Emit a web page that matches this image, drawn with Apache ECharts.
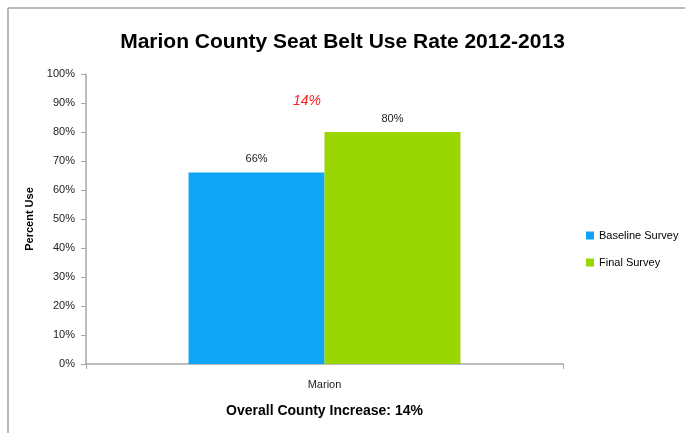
<!DOCTYPE html>
<html>
<head>
<meta charset="utf-8">
<script src="https://cdn.jsdelivr.net/npm/echarts@6/dist/echarts.min.js"></script>
<style>
  html, body { margin: 0; padding: 0; background: #fff; }
  #chart { width: 685px; height: 433px; }
</style>
</head>
<body>
<div id="chart"></div>
<script>
// data
const categories = ['Marion']
const baseline = [66]
const finalSurvey = [80]
const increaseText = '14%'
const yTicks = [0, 100, 10] // min, max, step

const font = '"Liberation Sans", Arial, sans-serif'
const chart = echarts.init(document.getElementById('chart'))

chart.setOption({
  animation: false,
  title: {
    text: 'Marion County Seat Belt Use Rate 2012-2013',
    left: 'center',
    top: 27,
    textStyle: { fontFamily: font, fontSize: 21, fontWeight: 'bold', color: '#000' }
  },
  legend: {
    orient: 'vertical',
    left: 581,
    top: 225,
    itemWidth: 8,
    itemHeight: 8,
    itemGap: 16,
    icon: 'rect',
    textStyle: { fontFamily: font, fontSize: 11, color: '#000' },
    data: ['Baseline Survey', 'Final Survey']
  },
  grid: { left: 86, right: 122, top: 74, bottom: 69 },
  xAxis: {
    type: 'category',
    data: categories,
    axisLine: { lineStyle: { color: '#a6a6a6', width: 1.5 } },
    axisTick: { show: true, length: 5, lineStyle: { color: '#a6a6a6' } },
    axisLabel: { fontFamily: font, fontSize: 11, color: '#222', margin: 15 },
    name: 'Overall County Increase: 14%',
    nameLocation: 'middle',
    nameGap: 40,
    nameTextStyle: { fontFamily: font, fontSize: 14, fontWeight: 'bold', color: '#000' }
  },
  yAxis: {
    type: 'value',
    min: yTicks[0],
    max: yTicks[1],
    interval: yTicks[2],
    splitLine: { show: false },
    axisLine: { show: true, lineStyle: { color: '#a6a6a6', width: 1.5 } },
    axisTick: { show: true, length: 5, lineStyle: { color: '#a6a6a6' } },
    axisLabel: { fontFamily: font, fontSize: 11, color: '#222', margin: 11, formatter: '{value}%' },
    name: 'Percent Use',
    nameLocation: 'middle',
    nameGap: 47,
    nameTextStyle: { fontFamily: font, fontSize: 11, fontWeight: 'bold', color: '#000' }
  },
  series: [
    {
      name: 'Baseline Survey',
      type: 'bar',
      data: baseline,
      barGap: '0%',
      barCategoryGap: '43%',
      itemStyle: { color: '#0ea5f6' },
      label: { show: true, position: 'top', distance: 8, formatter: '{c}%', fontFamily: font, fontSize: 11, color: '#222' }
    },
    {
      name: 'Final Survey',
      type: 'bar',
      data: finalSurvey,
      itemStyle: { color: '#99d602' },
      label: { show: true, position: 'top', distance: 8, formatter: '{c}%', fontFamily: font, fontSize: 11, color: '#222' }
    }
  ],
  graphic: [
    { type: 'line', shape: { x1: 8, y1: 8, x2: 685, y2: 8 }, style: { stroke: '#a0a0a0', lineWidth: 1.5 } },
    { type: 'line', shape: { x1: 8, y1: 8, x2: 8, y2: 433 }, style: { stroke: '#a0a0a0', lineWidth: 1.5 } },
    {
      type: 'text',
      left: 293,
      top: 94,
      style: { text: increaseText, fill: '#ff2020', font: 'italic 14px ' + font }
    }
  ]
})
</script>
</body>
</html>
